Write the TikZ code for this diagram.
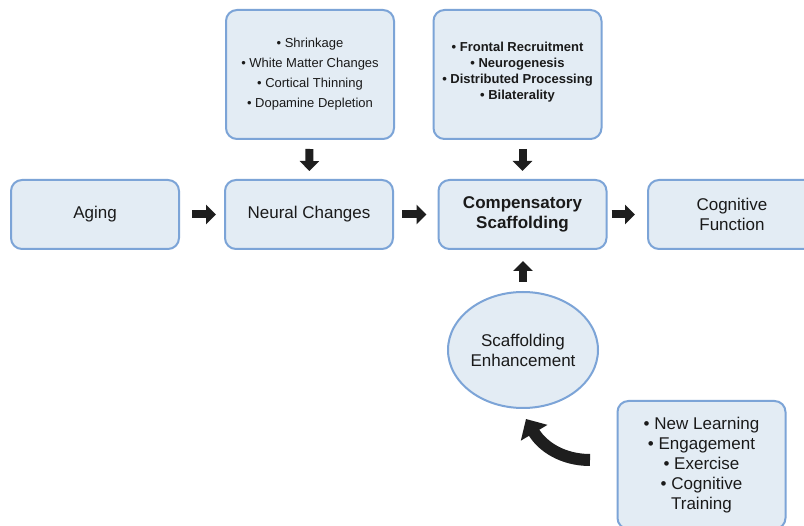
\documentclass[tikz,border=0pt]{standalone}
\usepackage{fontspec}
\setmainfont{Liberation Sans}
\usetikzlibrary{arrows.meta,shapes.geometric}
\definecolor{boxfill}{HTML}{E3ECF4}
\definecolor{boxline}{HTML}{7CA4D7}
\definecolor{arrowc}{HTML}{1E1E1E}
\definecolor{txt}{HTML}{1A1A1A}
\begin{document}
\begin{tikzpicture}[x=1pt,y=-1pt,
  box/.style={draw=boxline, fill=boxfill, line width=2pt, rounded corners=11pt,
    minimum width=168pt, align=center, text=txt, inner sep=0pt},
  mainbox/.style={box, minimum height=69pt, font=\fontsize{17}{20}\selectfont},
  listbox/.style={box, minimum height=129pt, font=\fontsize{13}{20}\selectfont},
  boldlist/.style={box, minimum height=129pt, font=\bfseries\fontsize{13}{16}\selectfont},
  ellbox/.style={draw=boxline, fill=boxfill, line width=2pt, ellipse, minimum width=150pt,
    minimum height=116pt, inner sep=0pt, align=center, text=txt, font=\fontsize{17}{20}\selectfont},
  barrow/.style={draw=arrowc, line width=8pt, -{Triangle[length=10pt,width=19pt]}},
  carrow/.style={draw=arrowc, line width=12pt, -{Triangle[length=16pt,width=30pt]}}
]
\useasboundingbox (0,0) rectangle (804,526);
\fill[white] (0,0) rectangle (804,526);

\node[mainbox] (aging) at (95,214.5) {Aging};
\node[mainbox] (neural) at (309,214.5) {Neural Changes};
\node[mainbox, font=\bfseries\fontsize{17}{20}\selectfont] (comp) at (522.5,214.5) {Compensatory\\Scaffolding};
\node[mainbox] (cog) at (732,214.5) {Cognitive\\Function};

\node[listbox] (chg) at (310,74.5) {• Shrinkage\\• White Matter Changes\\• Cortical Thinning\\• Dopamine Depletion};
\node[boldlist] (mech) at (517.5,74.5) {• Frontal Recruitment\\• Neurogenesis\\• Distributed Processing\\• Bilaterality\\[-9pt]};

\node[ellbox] (enh) at (523,350) {Scaffolding\\Enhancement};

\node[box, minimum height=128pt, font=\fontsize{17}{20}\selectfont] (act) at (701.5,465) {• New Learning\\• Engagement\\• Exercise\\• Cognitive\\Training};

\draw[barrow, shorten <=12pt, shorten >=8pt] (aging) -- (neural);
\draw[barrow, shorten <=8pt, shorten >=11pt] (neural) -- (comp);
\draw[barrow, shorten <=4pt, shorten >=12pt] (comp) -- (cog);
\draw[barrow, shorten <=9pt, shorten >=8pt] (chg) -- (neural);
\draw[barrow, shorten <=9pt, shorten >=8pt] (mech.south -| comp) -- (comp);
\draw[barrow, shorten <=9pt, shorten >=11pt] (enh) -- (comp.south -| enh);

\coordinate (ctail) at (590,460);
\coordinate (chead) at (526,419);
\draw[carrow] (ctail) .. controls (562,460) and (542,446) .. (chead);
\end{tikzpicture}
\end{document}
